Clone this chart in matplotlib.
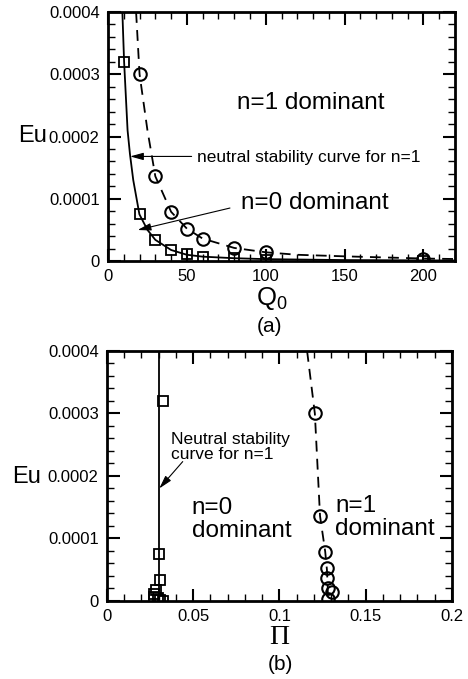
import numpy as np
import matplotlib.pyplot as plt
from matplotlib.ticker import MultipleLocator, FuncFormatter

plt.rcParams['font.family'] = ['Liberation Sans', 'DejaVu Sans']

# panel (a): Eu vs Q0
q_sq = [10, 20, 30, 40, 50, 60, 80, 100, 200]
eu_sq = [0.00032, 0.000075, 0.000034, 0.000018, 0.000011, 0.000007, 0.0000045, 0.000002, 0.0000005]
q_ci = [20, 30, 40, 50, 60, 80, 100, 200]
eu_ci = [0.0003, 0.000136, 0.000079, 0.000052, 0.000036, 0.000021, 0.000014, 0.000003]

# neutral stability curve (solid)
q_solid = [9.1, 10.2, 12.4, 13.9, 16, 19.9, 25, 30, 40, 50, 60, 80, 100, 150, 200, 220]
eu_solid = [0.0004, 0.00032, 0.00021, 0.000172, 0.00013, 0.000075, 0.00005, 0.000034,
            0.0000177, 0.00001, 0.000007, 0.0000045, 0.000003, 0.0000015, 0.000001, 0.0000008]
# dashed curve through circles
q_dash = [17.8, 20, 25, 30, 40, 50, 60, 80, 100, 120, 150, 200, 220]
eu_dash = [0.0004, 0.0003, 0.00021, 0.000136, 0.000079, 0.000052, 0.000036, 0.000021,
           0.000014, 0.00001, 0.0000075, 0.000004, 0.0000032]

# panel (b): Eu vs Pi
pi_sq = [0.0323, 0.0301, 0.0307, 0.0285, 0.027, 0.0275, 0.0295, 0.031, 0.0325]
pi_ci = [0.1205, 0.1235, 0.1265, 0.1275, 0.1278, 0.1279, 0.1305, 0.1283]
pi_vline = 0.030
pi_dash = [0.116, 0.1205, 0.1235, 0.1265, 0.1275, 0.128, 0.128]
eu_dash_b = [0.0004, 0.0003, 0.000136, 0.000079, 0.00005, 0.00002, 0.0]

fig = plt.figure(figsize=(4.68, 6.79), dpi=100)
ax1 = fig.add_axes([0.2308, 0.6156, 0.7415, 0.3667])
ax2 = fig.add_axes([0.2286, 0.1149, 0.7372, 0.3682])

def style(ax):
    for s in ax.spines.values():
        s.set_linewidth(2)
    ax.tick_params(which='both', direction='in', top=True, right=True, labelsize=12)
    ax.tick_params(which='major', length=9, width=1.5, pad=6)
    ax.tick_params(which='minor', length=5, width=1)
    ax.set_ylim(0, 0.0004)
    ax.yaxis.set_major_locator(MultipleLocator(0.0001))
    ax.yaxis.set_minor_locator(MultipleLocator(0.00002))
    ax.yaxis.set_major_formatter(FuncFormatter(lambda v, p: '0' if v == 0 else '%.4f' % v))

ls_dash = (0, (6, 4))

# (a)
style(ax1)
ax1.set_xlim(0, 220)
ax1.xaxis.set_major_locator(MultipleLocator(50))
ax1.xaxis.set_minor_locator(MultipleLocator(10))
ax1.xaxis.set_major_formatter(FuncFormatter(lambda v, p: '%d' % v))
ax1.plot(q_solid, eu_solid, color='black', lw=1.3)
ax1.plot(q_dash, eu_dash, color='black', lw=1.3, linestyle=ls_dash)
ax1.plot(q_sq, eu_sq, 's', ms=7, mfc='none', mec='black', mew=1.3)
ax1.plot(q_ci, eu_ci, 'o', ms=9, mfc='none', mec='black', mew=1.5)
ax1.text(81.6, 0.000254, 'n=1 dominant', fontsize=17.5, va='center')
ax1.text(84, 0.0000932, 'n=0 dominant', fontsize=17.5, va='center')
ax1.text(56.4, 0.000167, 'neutral stability curve for n=1', fontsize=12.5, va='center')
arr = dict(arrowstyle='-|>,head_length=0.8,head_width=0.22', color='black', lw=0.8, shrinkA=0, shrinkB=0)
ax1.annotate('', xy=(14, 0.000168), xytext=(53, 0.000168), arrowprops=arr)
ax1.annotate('', xy=(18.8, 0.0000498), xytext=(77.3, 0.0000851), arrowprops=arr)

# (b)
style(ax2)
ax2.set_xlim(0, 0.2)
ax2.xaxis.set_major_locator(MultipleLocator(0.05))
ax2.xaxis.set_minor_locator(MultipleLocator(0.01))
ax2.xaxis.set_major_formatter(FuncFormatter(lambda v, p: '0' if v == 0 else ('%.2f' % v).rstrip('0')))
ax2.plot([pi_vline, pi_vline], [0, 0.0004], color='black', lw=1.3)
ax2.plot(pi_dash, eu_dash_b, color='black', lw=1.3, linestyle=ls_dash)
ax2.plot(pi_sq, eu_sq, 's', ms=7, mfc='none', mec='black', mew=1.3)
ax2.plot(pi_ci, eu_ci, 'o', ms=9, mfc='none', mec='black', mew=1.5)
ax2.text(0.0369, 0.000246, 'Neutral stability\ncurve for n=1', fontsize=12.5, va='center',
         linespacing=1.0)
ax2.annotate('', xy=(0.0303, 0.00018), xytext=(0.0439, 0.000223), arrowprops=arr)
ax2.text(0.0491, 0.000131, 'n=0\ndominant', fontsize=17.5, va='center', linespacing=1.05)
ax2.text(0.1322, 0.000133, 'n=1\ndominant', fontsize=17.5, va='center', linespacing=1.05)

# axis titles
fig.text(33 / 468, 1 - 136 / 679, 'Eu', fontsize=17, ha='center', va='center')
fig.text(27 / 468, 1 - 477 / 679, 'Eu', fontsize=17, ha='center', va='center')
fig.text(272 / 468, 1 - 299 / 679, r'Q$_\mathregular{0}$', fontsize=18.5, ha='center', va='center')
fig.text(270 / 468, 1 - 326 / 679, '(a)', fontsize=15, ha='center', va='center')
fig.text(279 / 468, 1 - 637 / 679, 'Π', fontsize=20, ha='center', va='center',
         family=['Liberation Serif', 'DejaVu Serif'])
fig.text(280 / 468, 1 - 665 / 679, '(b)', fontsize=15, ha='center', va='center')

fig.savefig('out.png', dpi=100)
